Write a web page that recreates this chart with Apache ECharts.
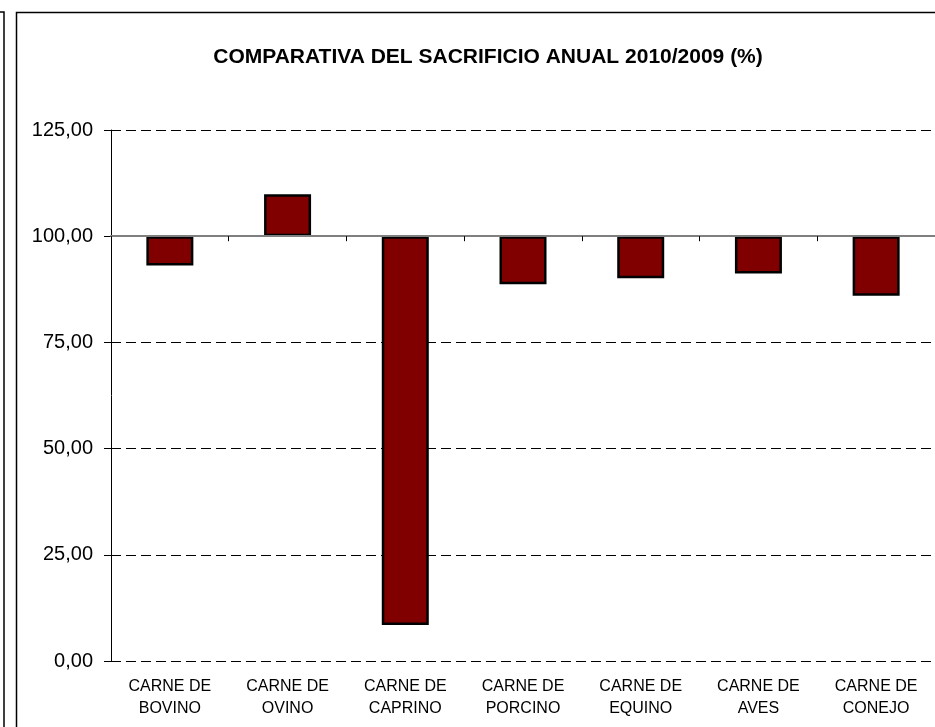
<!DOCTYPE html>
<html>
<head>
<meta charset="utf-8">
<script src="https://cdn.jsdelivr.net/npm/echarts@6/dist/echarts.min.js"></script>
<style>
  html, body { margin: 0; padding: 0; background: #fff; }
  #chart { width: 935px; height: 727px; }
</style>
</head>
<body>
<div id="chart"></div>
<script>
const categories = [
  "CARNE DE\nBOVINO", "CARNE DE\nOVINO", "CARNE DE\nCAPRINO", "CARNE DE\nPORCINO",
  "CARNE DE\nEQUINO", "CARNE DE\nAVES", "CARNE DE\nCONEJO"
];
// % 2010 over 2009
const values = [93.1, 109.9, 8.5, 88.7, 90.1, 91.2, 86.0];
const baseline = 100;
const yTicks = [0, 25, 50, 75, 100, 125];

const fmt = (v) => v.toFixed(2).replace(".", ",");

const chart = echarts.init(document.getElementById("chart"));

// bars are drawn relative to the 100 line, the axis labels add it back
chart.setOption({
  animation: false,
  backgroundColor: "#fff",
  textStyle: { fontFamily: "Liberation Sans, Arial, sans-serif" },
  title: {
    text: "COMPARATIVA DEL SACRIFICIO ANUAL 2010/2009 (%)",
    left: 483,
    top: 42,
    textAlign: "center",
    textStyle: { fontSize: 21, fontWeight: "bold", color: "#000" }
  },
  graphic: [
    { type: "polyline", shape: { points: [[0, 12], [4, 12], [4, 727]] }, style: { stroke: "#000", lineWidth: 1.5, fill: null } },
    { type: "polyline", shape: { points: [[16.5, 727], [16.5, 12.5], [935, 12.5]] }, style: { stroke: "#000", lineWidth: 1.5, fill: null } }
  ],
  grid: { left: 111, top: 130, right: -2, bottom: 66 },
  xAxis: [
    {
      type: "category",
      data: categories,
      axisLine: { onZero: true, lineStyle: { color: "#808080", width: 2 } },
      axisTick: { show: true, length: 5, lineStyle: { color: "#000", width: 1 } },
      axisLabel: { show: false },
      z: 5
    },
    {
      type: "category",
      data: categories,
      position: "bottom",
      axisLine: { show: false, onZero: false },
      axisTick: { show: false },
      axisLabel: { margin: 15, fontSize: 16, lineHeight: 22, color: "#000", interval: 0 }
    }
  ],
  yAxis: {
    type: "value",
    min: yTicks[0] - baseline,
    max: yTicks[yTicks.length - 1] - baseline,
    interval: 25,
    axisLine: { show: true, lineStyle: { color: "#000", width: 1 } },
    axisTick: { show: true, length: 7, lineStyle: { color: "#000" } },
    axisLabel: { margin: 18, fontSize: 20, color: "#000", formatter: (v) => fmt(v + baseline) },
    splitLine: { show: true, lineStyle: { color: "#000", type: [10, 5], width: 1 } }
  },
  series: [{
    type: "bar",
    xAxisIndex: 0,
    z: 3,
    data: values.map((v) => v - baseline),
    barWidth: 47,
    itemStyle: { color: "#800000", borderColor: "#000", borderWidth: 2.5 }
  }]
});
</script>
</body>
</html>
